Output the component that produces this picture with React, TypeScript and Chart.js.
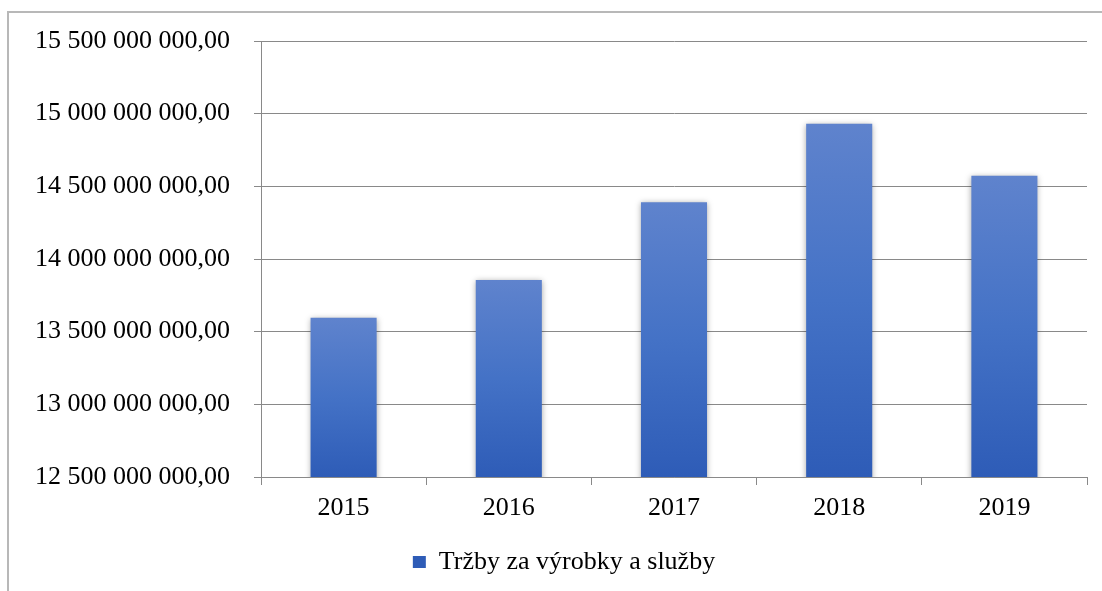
import React, { useEffect, useRef } from 'react';
import { Chart, registerables } from 'chart.js';

Chart.register(...registerables);

const years: string[] = ['2015', '2016', '2017', '2018', '2019'];
const revenue: number[] = [13596000000, 13855000000, 14391000000, 14930000000, 14572000000];
const seriesLabel = 'Tržby za výrobky a služby';
const yMin = 12500000000;
const yMax = 15500000000;
const yStep = 500000000;

function formatCz(v: number): string {
  const s = Math.round(v).toString();
  return s.replace(/\B(?=(\d{3})+(?!\d))/g, ' ') + ',00';
}

const FONT = '"Liberation Serif", "Times New Roman", serif';
const GRID = '#898989';

export default function App() {
  const ref = useRef<HTMLCanvasElement>(null);

  useEffect(() => {
    if (!ref.current) return;
    const shadowPlugin = {
      id: 'barShadow',
      beforeDatasetsDraw(chart: any) {
        const c = chart.ctx;
        c.save();
        c.shadowColor = 'rgba(0,0,0,0.35)';
        c.shadowBlur = 6;
        c.shadowOffsetX = 0;
        c.shadowOffsetY = 1;
      },
      afterDatasetsDraw(chart: any) {
        chart.ctx.restore();
      },
    };
    const legendShift = {
      id: 'legendShift',
      afterLayout(chart: any) {
        if (chart.legend) {
          chart.legend.left = 41;
        }
      },
    };

    const chart = new Chart(ref.current, {
      type: 'bar',
      data: {
        labels: years,
        datasets: [
          {
            label: seriesLabel,
            data: revenue,
            backgroundColor: (ctx: any) => {
              const ch = ctx.chart;
              const area = ch.chartArea;
              if (!area || ctx.type !== 'data' || !ch.scales.y) return '#4472c4';
              const ys = ch.scales.y;
              const top = ys.getPixelForValue(ctx.raw);
              const bottom = ys.getPixelForValue(ys.min);
              if (!isFinite(top) || !isFinite(bottom) || top === bottom) return '#4472c4';
              const g = ch.ctx.createLinearGradient(0, top, 0, bottom);
              g.addColorStop(0, '#5f83cd');
              g.addColorStop(0.5, '#4472c6');
              g.addColorStop(1, '#2e5cb7');
              return g;
            },
            borderWidth: 0,
            categoryPercentage: 1,
            barPercentage: 0.4,
          },
        ],
      },
      options: {
        responsive: false,
        animation: false,
        devicePixelRatio: 1,
        layout: { padding: { left: 0, right: 15, top: 41, bottom: 6 } },
        plugins: {
          tooltip: { enabled: false },
          legend: {
            position: 'bottom',
            labels: {
              boxWidth: 13,
              boxHeight: 12,
              padding: 10,
              color: '#000',
              font: { family: FONT, size: 26 },
            },
          },
        },
        scales: {
          x: {
            offset: true,
            grid: {
              offset: true,
              drawOnChartArea: false,
              drawTicks: true,
              tickLength: 8,
              color: GRID,
              lineWidth: 1,
            },
            border: { display: true, color: GRID, width: 1 },
            ticks: {
              color: '#000',
              padding: 8,
              maxRotation: 0,
              autoSkip: false,
              font: { family: FONT, size: 26 },
            },
            afterFit: (scale: any) => {
              scale.height = 62;
            },
          },
          y: {
            min: yMin,
            max: yMax,
            grid: {
              color: GRID,
              lineWidth: 1,
              drawTicks: true,
              tickLength: 7,
            },
            border: { display: true, color: GRID, width: 1 },
            ticks: {
              stepSize: yStep,
              color: '#000',
              padding: 24,
              font: { family: FONT, size: 26 },
              callback: (v: any) => formatCz(Number(v)),
            },
            afterFit: (scale: any) => {
              scale.width = 261;
            },
          },
        },
      },
      plugins: [shadowPlugin, legendShift],
    } as any);

    return () => chart.destroy();
  }, []);

  return (
    <div style={{ position: 'fixed', left: 0, top: 0, width: 1102, height: 591, background: '#fff' }}>
      <div
        style={{
          position: 'absolute',
          left: 7,
          top: 11,
          width: 1102,
          height: 591,
          borderLeft: '2px solid #b8b8b8',
          borderTop: '2px solid #b8b8b8',
        }}
      />
      <canvas
        ref={ref}
        width={1102}
        height={591}
        style={{ position: 'absolute', left: 0, top: 0, width: 1102, height: 591, display: 'block' }}
      />
    </div>
  );
}
